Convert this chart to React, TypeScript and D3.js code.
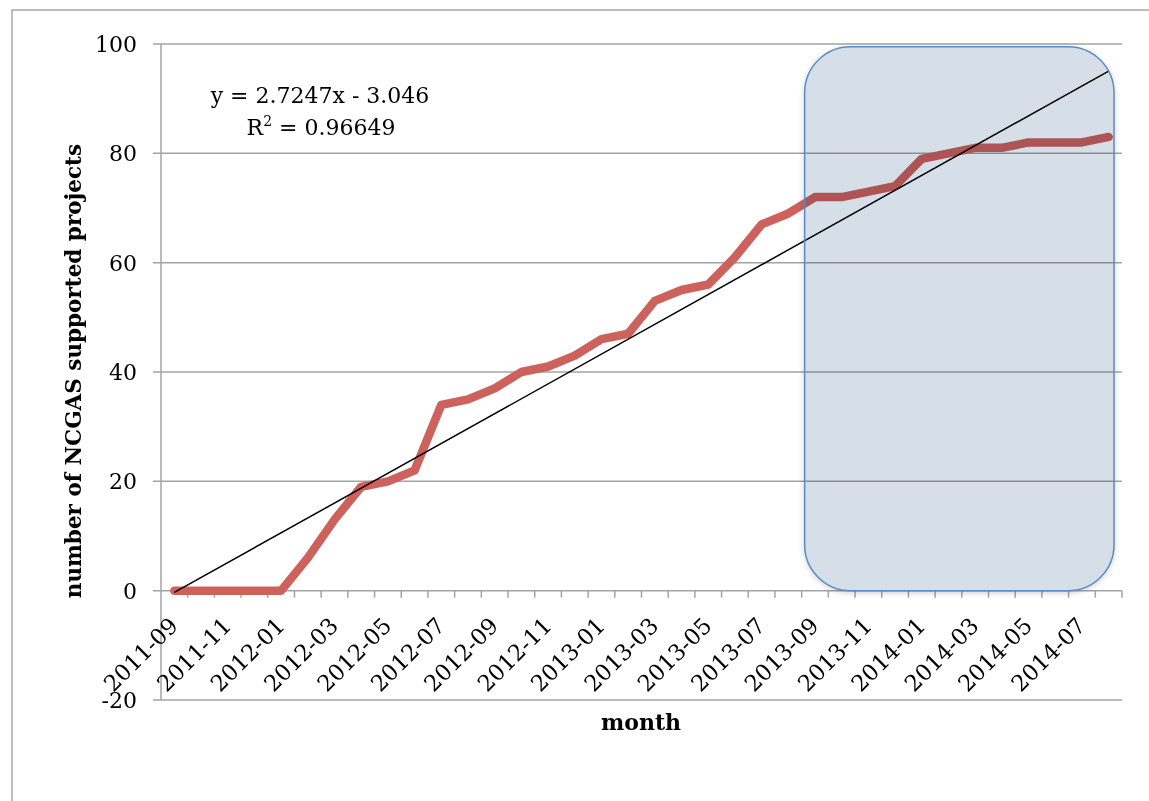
import React from 'react';
import * as d3 from 'd3';

const months = [
  "2011-09", "2011-10", "2011-11", "2011-12",
  "2012-01", "2012-02", "2012-03", "2012-04", "2012-05", "2012-06",
  "2012-07", "2012-08", "2012-09", "2012-10", "2012-11", "2012-12",
  "2013-01", "2013-02", "2013-03", "2013-04", "2013-05", "2013-06",
  "2013-07", "2013-08", "2013-09", "2013-10", "2013-11", "2013-12",
  "2014-01", "2014-02", "2014-03", "2014-04", "2014-05", "2014-06",
  "2014-07", "2014-08",
];
const projects = [
  0, 0, 0, 0,
  0, 6, 13, 19, 20, 22,
  34, 35, 37, 40, 41, 43,
  46, 47, 53, 55, 56, 61,
  67, 69, 72, 72, 73, 74,
  79, 80, 81, 81, 82, 82,
  82, 83,
];
const yTicks = [-20, 0, 20, 40, 60, 80, 100];
const trendSlope = 2.7247;
const trendIntercept = -3.046;
const rSquared = "0.96649";
const highlightMonths = ["2013-09", "2014-08"];
const highlightValues = [0, 99.5];

const W = 1149;
const H = 801;
const FONT = '"DejaVu Serif", "Liberation Serif", serif';

export default function App() {
  const left = 161, right = 1122, top = 44, bottom = 700;
  const x = d3.scaleBand<string>().domain(months).range([left, right]).padding(0);
  const y = d3.scaleLinear().domain([-20, 100]).range([bottom, top]);
  const cx = (m: string) => (x(m) as number) + x.bandwidth() / 2;

  const line = d3.line<number>()
    .x((_, i) => cx(months[i]))
    .y((d) => y(d));

  const trendPts: [number, number][] = [1, months.length].map((k) => [
    cx(months[k - 1]),
    y(trendSlope * k + trendIntercept),
  ]);

  const hx0 = (x(highlightMonths[0]) as number) + 3;
  const hx1 = (x(highlightMonths[1]) as number) + x.bandwidth() - 8;
  const hy0 = y(highlightValues[1]);
  const hy1 = y(highlightValues[0]);
  const hw = hx1 - hx0;
  const hh = hy1 - hy0;

  const grid = '#a3a3a3';
  const y0 = y(0);

  return (
    <svg width={W} height={H} style={{ position: 'absolute', left: 0, top: 0, background: '#fff' }} fontFamily={FONT}>
      <defs>
        <filter id="blur" x="-20%" y="-20%" width="140%" height="140%">
          <feGaussianBlur stdDeviation="3" />
        </filter>
        <mask id="outside" maskUnits="userSpaceOnUse" x={0} y={0} width={W} height={H}>
          <rect x={0} y={0} width={W} height={H} fill="#fff" />
          <rect x={hx0} y={hy0} width={hw} height={hh} rx={46} ry={46} fill="#000" />
        </mask>
      </defs>
      <rect x={12} y={10} width={W + 20} height={H + 20} fill="#fff" stroke="#a8a8a8" strokeWidth={1.5} />

      {/* gridlines */}
      {yTicks.map((t) => (
        <line key={t} x1={left - 8} x2={right} y1={y(t)} y2={y(t)} stroke={grid} strokeWidth={1.5} />
      ))}
      {/* y axis */}
      <line x1={left} x2={left} y1={top} y2={bottom} stroke={grid} strokeWidth={1.5} />
      {/* x axis ticks */}
      {months.map((m) => (
        <line key={m} x1={(x(m) as number) + x.bandwidth()} x2={(x(m) as number) + x.bandwidth()} y1={y0} y2={y0 + 7} stroke={grid} strokeWidth={1.5} />
      ))}

      {/* y tick labels */}
      {yTicks.map((t) => (
        <text key={t} x={137} y={y(t)} dy="0.36em" textAnchor="end" fontSize={22} fill="#000">{t}</text>
      ))}

      {/* x tick labels */}
      {months.map((m, i) => i % 2 === 0 ? (
        <text key={m} transform={`translate(${cx(m) + 5},${627}) rotate(-45)`} textAnchor="end" fontSize={22.5} fill="#000">{m}</text>
      ) : null)}

      {/* data line */}
      <path d={line(projects) || ''} fill="none" stroke="#cd625c" strokeWidth={8.5} strokeLinejoin="round" strokeLinecap="round" />

      {/* trendline */}
      <line x1={trendPts[0][0]} y1={trendPts[0][1]} x2={trendPts[1][0]} y2={trendPts[1][1]} stroke="#000" strokeWidth={1.5} />

      {/* highlight box: soft outer shadow, multiply-blended fill, outline */}
      <g mask="url(#outside)">
        <rect x={hx0} y={hy0 + 1.5} width={hw} height={hh} rx={46} ry={46}
          fill="#000" fillOpacity={0.22} filter="url(#blur)" />
      </g>
      <rect x={hx0} y={hy0} width={hw} height={hh} rx={46} ry={46}
        fill="#d6dee8" stroke="none" style={{ mixBlendMode: 'multiply' }} />
      <rect x={hx0} y={hy0} width={hw} height={hh} rx={46} ry={46}
        fill="none" stroke="#5b8cc8" strokeWidth={1.5} />

      {/* equation */}
      <text x={320} y={103} textAnchor="middle" fontSize={22} fill="#000">{`y = ${trendSlope}x - ${Math.abs(trendIntercept).toFixed(3)}`}</text>
      <text x={321} y={135} textAnchor="middle" fontSize={22} fill="#000">
        R<tspan dy={-9} fontSize={14}>2</tspan><tspan dy={9}>{` = ${rSquared}`}</tspan>
      </text>

      {/* axis titles */}
      <text transform="translate(81,371) rotate(-90)" textAnchor="middle" fontSize={21.5} fontWeight="bold" fill="#000">number of NCGAS supported projects</text>
      <text x={641} y={730} textAnchor="middle" fontSize={22} fontWeight="bold" fill="#000">month</text>
    </svg>
  );
}
